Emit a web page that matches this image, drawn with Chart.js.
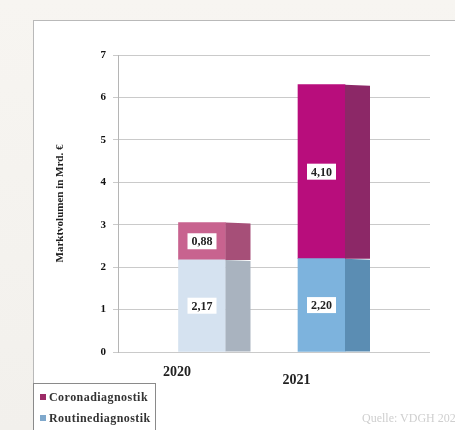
<!DOCTYPE html>
<html>
<head>
<meta charset="utf-8">
<script src="https://cdn.jsdelivr.net/npm/chart.js@4.4.1/dist/chart.umd.min.js"></script>
<style>
  body { margin: 0; width: 455px; height: 430px; overflow: hidden; background: linear-gradient(#f7f5f1, #f2f0ec); font-family: "Liberation Serif", serif; }
  #panel { position: absolute; left: 33px; top: 20px; width: 440px; height: 430px; background: #fff; border: 1px solid #b9b9b9; }
  #chart { position: absolute; left: 0; top: 0; }
  #legend { position: absolute; left: 33px; top: 383px; width: 121px; height: 60px; border: 1px solid #8a8a8a; background: #fff; font-weight: bold; font-size: 12px; letter-spacing: 0.45px; color: #333; }
  #legend div { position: absolute; left: 6px; white-space: nowrap; }
  #legend span { display: inline-block; width: 6px; height: 6px; margin-right: 3px; vertical-align: 1px; }
  #source { position: absolute; left: 362px; top: 411px; font-size: 12px; color: #cfcfcf; white-space: nowrap; }
</style>
</head>
<body>
<div id="panel"></div>
<canvas id="chart" width="455" height="430"></canvas>
<div id="legend"></div>
<div id="source">Quelle: VDGH 2022</div>
<script>
const years = ['2020', '2021'];
const routine = [2.17, 2.20];
const corona = [0.88, 4.10];
const yTicks = [0, 1, 2, 3, 4, 5, 6, 7];

const routineFront = ['#d5e2f0', '#7db3dd'];
const routineSide = ['#a9b3bf', '#5b8db3'];
const coronaFront = ['#c8638f', '#b80d7c'];
const coronaSide = ['#a64f78', '#8c2867'];

const ctx = document.getElementById('chart').getContext('2d');
const font = { family: '"Liberation Serif", serif', weight: 'bold', size: 12 };

// side face of the "3d" bars plus the value boxes
const bar3d = {
    id: 'bar3d',
    afterDatasetsDraw(chart) {
        const c = chart.ctx;
        const depth = 25;
        chart.data.datasets.forEach((ds, i) => {
            chart.getDatasetMeta(i).data.forEach((bar, j) => {
                const p = bar.getProps(['x', 'y', 'base', 'width'], true);
                const right = p.x + p.width / 2;
                c.fillStyle = ds.sideColor[j];
                c.beginPath();
                c.moveTo(right, p.y);
                c.lineTo(right + depth, p.y + 1);
                c.lineTo(right + depth, p.base);
                c.lineTo(right, p.base);
                c.closePath();
                c.fill();
            });
        });
        chart.data.datasets.forEach((ds, i) => {
            chart.getDatasetMeta(i).data.forEach((bar, j) => {
                const p = bar.getProps(['x', 'y', 'base'], true);
                const txt = ds.data[j].y.toFixed(2).replace('.', ',');
                const cy = (p.y + p.base) / 2;
                c.font = 'bold 12px "Liberation Serif", serif';
                const w = c.measureText(txt).width + 8;
                c.fillStyle = '#fff';
                c.fillRect(p.x - w / 2, cy - 8, w, 16);
                c.fillStyle = '#222';
                c.textAlign = 'center';
                c.textBaseline = 'middle';
                c.fillText(txt, p.x, cy + 1);
            });
        });
    }
};

const chart = new Chart(ctx, {
    type: 'bar',
    data: {
        datasets: [
            {
                label: 'Routinediagnostik',
                data: years.map((y, i) => ({ x: i, y: routine[i] })),
                backgroundColor: routineFront,
                sideColor: routineSide,
                legendColor: '#7fa8cc',
                barThickness: 47,
            },
            {
                label: 'Coronadiagnostik',
                data: years.map((y, i) => ({ x: i, y: corona[i] })),
                backgroundColor: coronaFront,
                sideColor: coronaSide,
                legendColor: '#9c2a66',
                barThickness: 47,
            },
        ],
    },
    options: {
        responsive: false,
        animation: false,
        layout: { padding: { left: 50, top: 55, right: 25, bottom: 40 } },
        plugins: { legend: { display: false }, tooltip: { enabled: false } },
        scales: {
            x: {
                type: 'linear',
                stacked: true,
                offset: false,
                min: -0.703,
                max: 1.908,
                grid: { display: false, drawTicks: false },
                border: { display: false },
                afterBuildTicks: s => { s.ticks = years.map((y, i) => ({ value: i })); },
                afterFit: s => { s.height = 38; },
                ticks: {
                    padding: 16,
                    labelOffset: -25,
                    color: '#222',
                    font: { ...font, size: 14, lineHeight: 0.57 },
                    callback: v => v === 1 ? ['', years[v]] : years[v],
                },
            },
            y: {
                stacked: true,
                min: 0,
                max: 7,
                afterBuildTicks: s => { s.ticks = yTicks.map(v => ({ value: v })); },
                afterFit: s => { s.width = 68; },
                grid: { color: '#cacaca', tickLength: 5 },
                border: { color: '#b5b5b5' },
                ticks: { padding: 7, color: '#111', font: { ...font, size: 11 } },
                title: { display: true, text: 'Marktvolumen in Mrd. €', color: '#222', font: { ...font, size: 11 } },
            },
        },
    },
    plugins: [bar3d],
});

// legend box, corona on top
const legend = document.getElementById('legend');
chart.data.datasets.slice().reverse().forEach((ds, k) => {
    const d = document.createElement('div');
    d.style.top = (6 + k * 21) + 'px';
    d.innerHTML = '<span style="background:' + ds.legendColor + '"></span>' + ds.label;
    legend.appendChild(d);
});
</script>
</body>
</html>
